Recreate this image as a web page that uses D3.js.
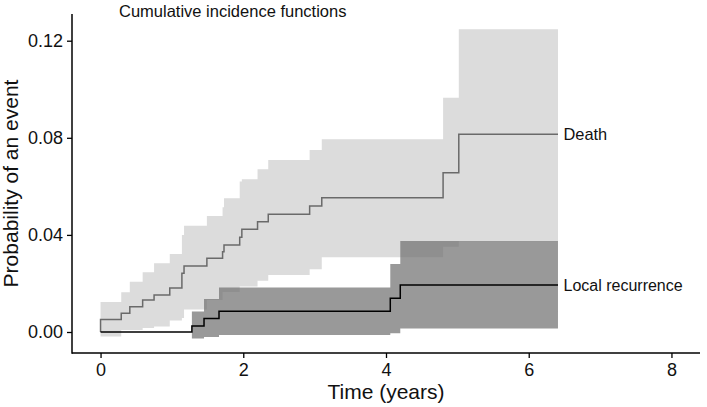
<!DOCTYPE html>
<html>
<head>
<meta charset="utf-8">
<script src="https://cdn.jsdelivr.net/npm/d3@7/dist/d3.min.js"></script>
<style>
  html, body { margin: 0; padding: 0; background: #fff; }
  svg { display: block; font-family: "Liberation Sans", Arial, Helvetica, sans-serif; }
</style>
</head>
<body>
<svg id="chart" width="707" height="407"></svg>
<script>
// ---- Data ----
const titleText = "Cumulative incidence functions";
const xTitle = "Time (years)";
const yTitle = "Probability of an event";
const xTicks = [0, 2, 4, 6, 8];
const yTicks = [0, 0.04, 0.08, 0.12];
const seriesNames = ["Death", "Local recurrence"];

const deathTime  = [0, 0, 0.29, 0.41, 0.59, 0.75, 0.97, 1.14, 1.17, 1.49, 1.71, 1.73, 1.95, 1.98, 2.20, 2.35, 2.93, 3.10, 4.80, 5.02, 6.41];
const deathEst   = [0, 0.0052, 0.0077, 0.0104, 0.0132, 0.0152, 0.0181, 0.0242, 0.0272, 0.0304, 0.0331, 0.0358, 0.0390, 0.0423, 0.0454, 0.0485, 0.0519, 0.0553, 0.0656, 0.0815, 0.0815];
const deathLower = [-0.0019, -0.0019, 0.0008, 0.0008, 0.0016, 0.0023, 0.0047, 0.0058, 0.0093, 0.0132, 0.0165, 0.0165, 0.0187, 0.0187, 0.0211, 0.0235, 0.0258, 0.0308, 0.0351, 0.0374, 0.0374];
const deathUpper = [0.0124, 0.0124, 0.0164, 0.0207, 0.0246, 0.0283, 0.0321, 0.0400, 0.0438, 0.0478, 0.0514, 0.0551, 0.0620, 0.0629, 0.0670, 0.0709, 0.0750, 0.0794, 0.0965, 0.1247, 0.1247];

const localTime  = [0, 1.28, 1.45, 1.66, 4.06, 4.20, 6.41];
const localEst   = [0, 0.0025, 0.0056, 0.0085, 0.0139, 0.0194, 0.0194];
const localLower = [0, -0.0027, -0.0021, -0.0012, -0.0005, 0.0014, 0.0014];
const localUpper = [0, 0.0084, 0.0136, 0.0183, 0.0280, 0.0375, 0.0375];

// ---- Layout ----
const svg = d3.select("#chart");
const panel = { left: 72, right: 700, top: 14, bottom: 353 };

const x = d3.scaleLinear().domain([-0.4, 8.4]).range([panel.left, panel.right]);
const y = d3.scaleLinear().domain([-0.00865, 0.1310]).range([panel.bottom, panel.top]);

function rows(t, a, b, c) { return t.map((d, i) => ({ t: d, est: a[i], lo: b[i], hi: c[i] })); }
const death = rows(deathTime, deathEst, deathLower, deathUpper);
const local = rows(localTime, localEst, localLower, localUpper);

const area = d3.area().curve(d3.curveStepAfter)
  .x(d => x(d.t)).y0(d => y(d.lo)).y1(d => y(d.hi));
const line = d3.line().curve(d3.curveStepAfter)
  .x(d => x(d.t)).y(d => y(d.est));

// ribbons
svg.append("path").datum(death).attr("d", area)
  .attr("fill", "#dcdcdc").attr("stroke", "none");
svg.append("path").datum(local.filter((d, i) => i > 0)).attr("d", area)
  .attr("fill", "rgb(112,112,112)").attr("fill-opacity", 0.71).attr("stroke", "none");

// lines
svg.append("path").datum(death).attr("d", line)
  .attr("fill", "none").attr("stroke", "#6a6a6a").attr("stroke-width", 1.5);
svg.append("path").datum(local).attr("d", line)
  .attr("fill", "none").attr("stroke", "#000").attr("stroke-width", 1.5);

// end labels
const lastD = death[death.length - 1], lastL = local[local.length - 1];
svg.append("text").attr("x", x(lastD.t) + 5.5).attr("y", y(lastD.est) + 5.8)
  .attr("font-size", 16.4).attr("fill", "#111").text(seriesNames[0]);
svg.append("text").attr("x", x(lastL.t) + 5.5).attr("y", y(lastL.est) + 5.8)
  .attr("font-size", 16).attr("fill", "#111").text(seriesNames[1]);

// axes
const xAxis = svg.append("g").attr("transform", `translate(0,${panel.bottom})`)
  .call(d3.axisBottom(x).tickValues(xTicks).tickSize(5).tickPadding(5).tickFormat(d3.format("d")));
const yAxis = svg.append("g").attr("transform", `translate(${panel.left},0)`)
  .call(d3.axisLeft(y).tickValues(yTicks).tickSize(5).tickPadding(4).tickFormat(d3.format(".2f")));

[xAxis, yAxis].forEach(g => {
  g.select(".domain").remove();
  g.selectAll(".tick line").attr("stroke", "#000").attr("stroke-width", 1.3);
  g.selectAll(".tick text").attr("font-size", 18).attr("fill", "#111")
    .attr("font-family", "'Liberation Sans', Arial, sans-serif");
});
xAxis.selectAll(".tick text").attr("dy", "0.71em");

// axis lines
svg.append("line").attr("x1", panel.left).attr("x2", panel.right)
  .attr("y1", panel.bottom).attr("y2", panel.bottom)
  .attr("stroke", "#000").attr("stroke-width", 1.5);
svg.append("line").attr("x1", panel.left).attr("x2", panel.left)
  .attr("y1", panel.top).attr("y2", panel.bottom + 0.75)
  .attr("stroke", "#000").attr("stroke-width", 1.5);

// titles
svg.append("text").attr("x", 119).attr("y", 16.5)
  .attr("font-size", 16.5).attr("fill", "#111").text(titleText);
svg.append("text").attr("x", (panel.left + panel.right) / 2).attr("y", 399)
  .attr("text-anchor", "middle").attr("font-size", 21).attr("fill", "#111").text(xTitle);
svg.append("text")
  .attr("transform", `translate(18,${(panel.top + panel.bottom) / 2}) rotate(-90)`)
  .attr("text-anchor", "middle").attr("font-size", 21).attr("fill", "#111").text(yTitle);
</script>
</body>
</html>
